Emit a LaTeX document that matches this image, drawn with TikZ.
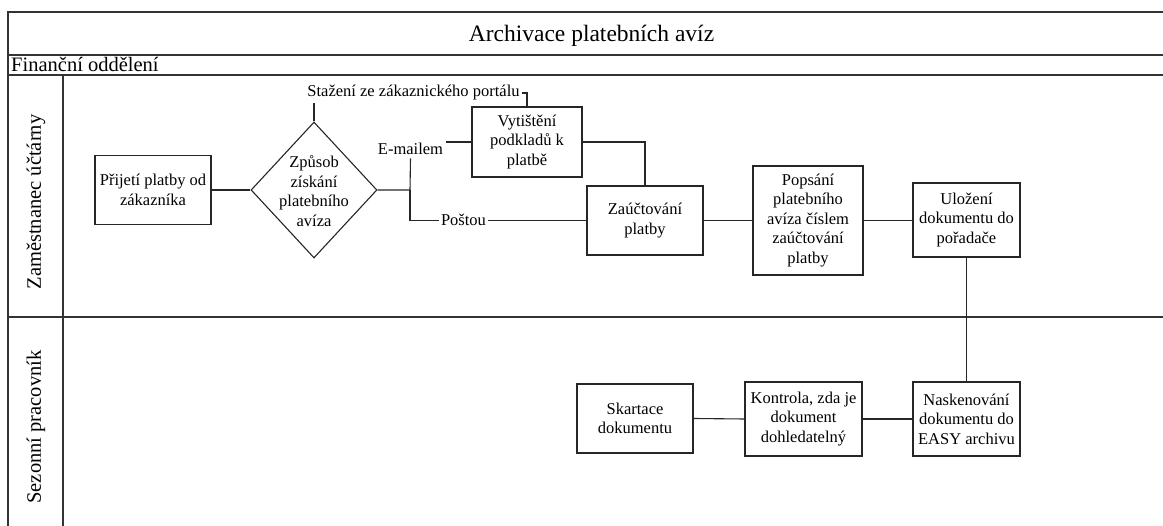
\documentclass[tikz,border=0pt]{standalone}
\usepackage{fontspec}
\setmainfont{Liberation Serif}
\usetikzlibrary{shapes.geometric}
\tikzset{
  frame/.style={line width=1.3pt, draw=black!80},
  link/.style={line width=1.1pt, draw=black!85},
  stepbox/.style={draw=black!85, line width=1.1pt, align=center, inner sep=0pt,
    font=\fontsize{16.5}{19.5}\selectfont},
  tag/.style={inner sep=2pt, font=\fontsize{16.5}{19.5}\selectfont},
  lanetitle/.style={font=\fontsize{20.5}{24}\selectfont, inner sep=0pt}
}
\begin{document}
\begin{tikzpicture}[x=1pt,y=-1pt]
\clip (0,0) rectangle (1163,526);

% pool frame and lanes
\draw[frame] (1180,12) -- (8,12) -- (8,540);
\draw[frame] (8,55) -- (1180,55);
\draw[frame] (8,75) -- (1180,75);
\draw[frame] (8,317) -- (1180,317);
\draw[frame] (63,75) -- (63,540);

\node[font=\fontsize{23.5}{28}\selectfont, inner sep=0pt, anchor=base] (title) at (591.5,42) {Archivace platebních avíz};
\node[lanetitle, anchor=base west] (dept) at (11,72) {Finanční oddělení};
\node[lanetitle, rotate=90] (lane1) at (36,202) {Zaměstnanec účtárny};
\node[lanetitle, rotate=90] (lane2) at (36,427) {Sezonní pracovník};

% process steps
\node[stepbox, minimum width=116, minimum height=69] (prijeti) at (153,190) {Přijetí platby od\\zákazníka};
\node[diamond, draw=black!85, line width=1.1pt, minimum width=126, minimum height=136, inner sep=0pt] (zpusob) at (314,190) {};
\node[align=center, font=\fontsize{16.5}{19.5}\selectfont, inner sep=0pt] (zpusobtext) at (314,191) {Způsob\\získání\\platebního\\avíza};
\node[stepbox, minimum width=110, minimum height=70] (tisk) at (527,142) {Vytištění\\podkladů k\\platbě};
\node[stepbox, minimum width=116, minimum height=69] (zauct) at (645,220.5) {Zaúčtování\\platby};
\node[stepbox, minimum width=110, minimum height=109] (popis) at (808,220.5) {Popsání\\platebního\\avíza číslem\\zaúčtování\\platby};
\node[stepbox, minimum width=107, minimum height=74] (ulozeni) at (966.5,220) {Uložení\\dokumentu do\\pořadače};
\node[stepbox, minimum width=107, minimum height=74] (sken) at (966.5,419) {Naskenování\\dokumentu do\\EASY archivu};
\node[stepbox, minimum width=117, minimum height=74] (kontrola) at (803.5,419) {Kontrola, zda je\\dokument\\dohledatelný};
\node[stepbox, minimum width=116, minimum height=69] (skartace) at (635,418.5) {Skartace\\dokumentu};

% branch labels
\node[tag, anchor=base] (portal) at (413.5,97) {Stažení ze zákaznického portálu};
\node[tag, anchor=base, inner sep=3pt] (email) at (410.5,155) {E-mailem};
\node[tag, anchor=base] (posta) at (463.5,226) {Poštou};
\coordinate (split) at (410,190);

% connectors
\draw[link] (prijeti.east) -- (zpusob.west);
\draw[link] (zpusob.north) -- (zpusob.north |- portal.south);
\draw[link] (portal.east) -| (tisk.north);
\draw[link] (zpusob.east) -- (split) -- (email.south);
\draw[link] (tisk.west) -- (tisk.west -| email.east);
\draw[link] (split) |- (posta.west);
\draw[link] (posta.east) -- (posta.east -| zauct.west);
\draw[link] (tisk.east) -| (zauct.north);
\draw[link] (zauct.east) -- (popis.west);
\draw[link] (popis.east) -- (popis.east -| ulozeni.west);
\draw[link] (ulozeni.south) -- (sken.north);
\draw[link] (sken.west) -- (kontrola.east);
\draw[link] (kontrola.west) -- (skartace.east);
\end{tikzpicture}
\end{document}
